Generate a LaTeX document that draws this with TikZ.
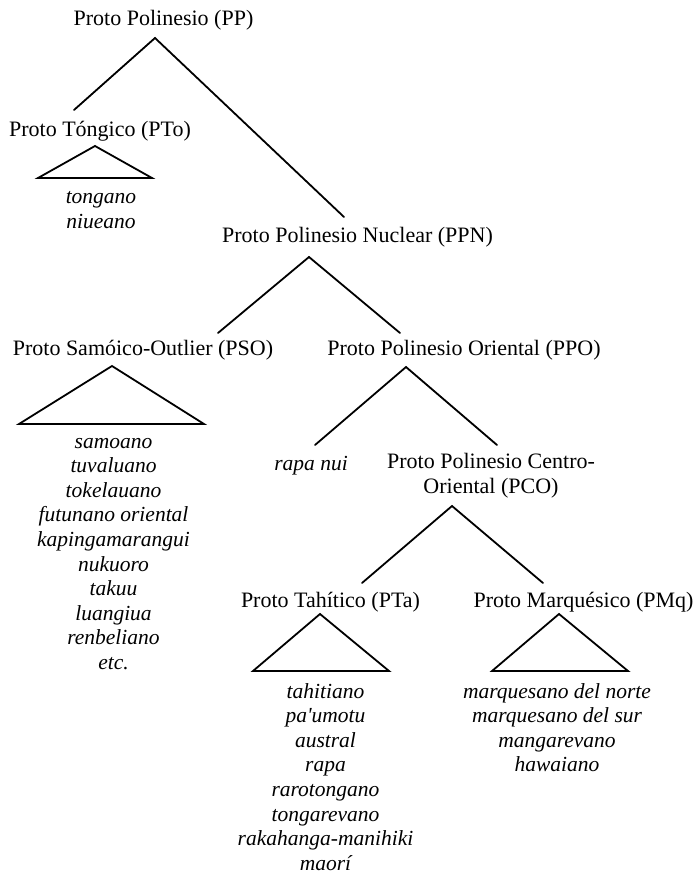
\documentclass[tikz,border=0pt]{standalone}
\usepackage{fontspec}
\setmainfont{Liberation Serif}
\newfontfamily\langfont{Liberation Serif}
\begin{document}
\begin{tikzpicture}[x=1pt,y=-1pt,
  lab/.style={font=\fontsize{22}{25}\selectfont, inner sep=0pt, anchor=base},
  lang/.style={font=\langfont\itshape\fontsize{21.5}{24.6}\selectfont, inner sep=0pt, anchor=base},
  br/.style={line width=1.8pt, line cap=round, line join=miter},
]
\useasboundingbox (0,0) rectangle (697,874);

% labels
\node[lab] (pp)  at (163.5,26) {Proto Polinesio (PP)};
\node[lab] (pto) at (100,137) {Proto Tóngico (PTo)};
\node[lab] (ppn) at (357.5,243) {Proto Polinesio Nuclear (PPN)};
\node[lab] (pso) at (143,355) {Proto Samóico-Outlier (PSO)};
\node[lab] (ppo) at (464,355) {Proto Polinesio Oriental (PPO)};
\node[lab] (pco) at (491,468) {\begin{tabular}[t]{@{}c@{}}Proto Polinesio Centro-\\Oriental (PCO)\end{tabular}};
\node[lab] (pta) at (330.5,607) {Proto Tahítico (PTa)};
\node[lab] (pmq) at (583.5,607) {Proto Marquésico (PMq)};

% language lists
\node[lang] (pto-l) at (101,204) {\begin{tabular}[t]{@{}c@{}}tongano\\niueano\end{tabular}};
\node[lang] (pso-l) at (113.5,448) {\begin{tabular}[t]{@{}c@{}}samoano\\tuvaluano\\tokelauano\\futunano oriental\\kapingamarangui\\nukuoro\\takuu\\luangiua\\renbeliano\\etc.\end{tabular}};
\node[lang] (rn) at (311,470) {rapa nui};
\node[lang] (pta-l) at (325.5,698) {\begin{tabular}[t]{@{}c@{}}tahitiano\\pa'umotu\\austral\\rapa\\rarotongano\\tongarevano\\rakahanga-manihiki\\maorí\end{tabular}};
\node[lang] (pmq-l) at (557,698) {\begin{tabular}[t]{@{}c@{}}marquesano del norte\\marquesano del sur\\mangarevano\\hawaiano\end{tabular}};

% branch points
\coordinate (pp-a) at (155,38);
\coordinate (pp-l) at (74,110);
\coordinate (pp-r) at (344,217);
\coordinate (ppn-a) at (309,257);
\coordinate (ppn-l) at (218,333);
\coordinate (ppn-r) at (400,333);
\coordinate (ppo-a) at (406,367);
\coordinate (ppo-l) at (315,445);
\coordinate (ppo-r) at (497,445);
\coordinate (pco-a) at (452,506);
\coordinate (pco-l) at (362,583);
\coordinate (pco-r) at (543,583);

\draw[br] (pp-l) -- (pp-a) -- (pp-r);
\draw[br] (ppn-l) -- (ppn-a) -- (ppn-r);
\draw[br] (ppo-l) -- (ppo-a) -- (ppo-r);
\draw[br] (pco-l) -- (pco-a) -- (pco-r);

% triangles
\draw[br, line cap=butt] (38,178) -- (95,146) -- (152,178) -- cycle;
\draw[br, line cap=butt] (19,424) -- (112,366) -- (204,424) -- cycle;
\draw[br, line cap=butt] (253,671) -- (320,614) -- (389,671) -- cycle;
\draw[br, line cap=butt] (492,671) -- (559,614) -- (628,671) -- cycle;
\end{tikzpicture}
\end{document}
